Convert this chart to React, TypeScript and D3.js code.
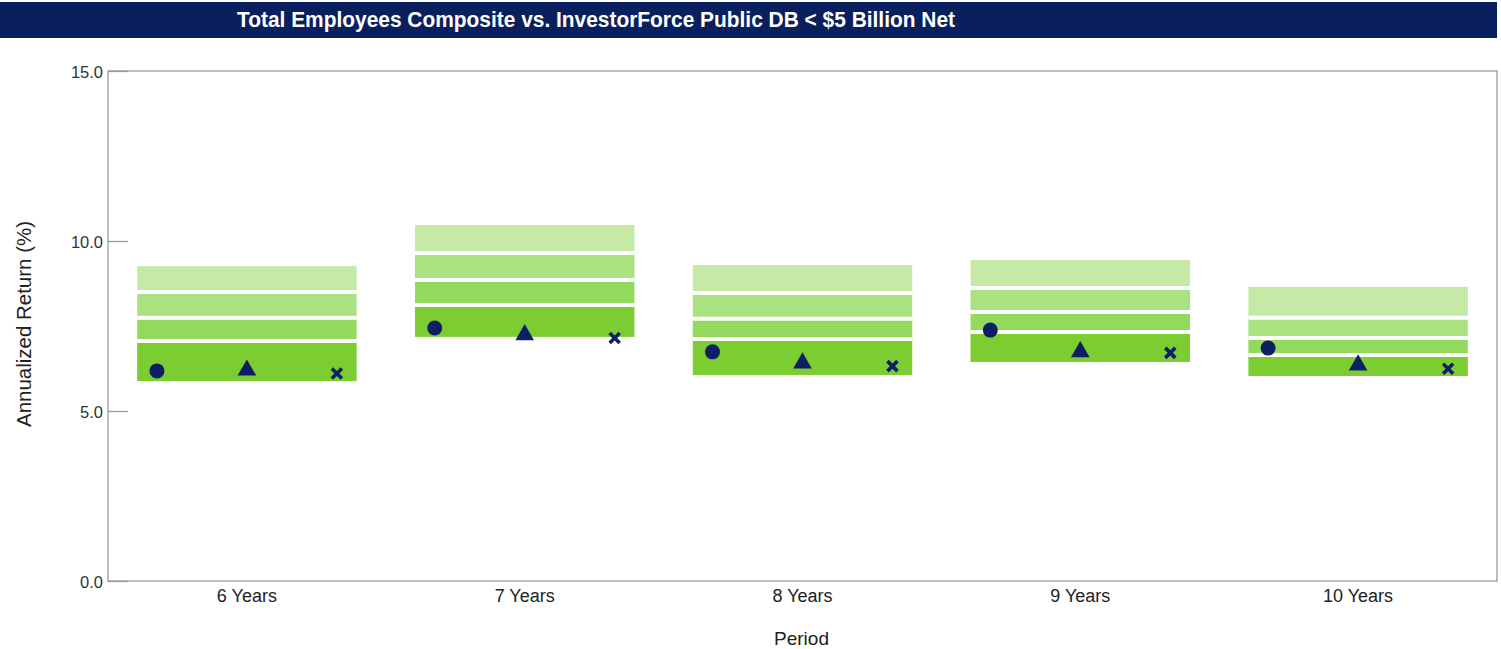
import React, { useEffect, useRef } from 'react';
import * as d3 from 'd3';

const periods = ['6 Years', '7 Years', '8 Years', '9 Years', '10 Years'];
// universe percentile edges (5th / 25th / median / 75th / 95th)
const p5 = [9.26, 10.47, 9.29, 9.44, 8.65];
const p25 = [8.5, 9.65, 8.47, 8.62, 7.74];
const p50 = [7.74, 8.85, 7.71, 7.91, 7.15];
const p75 = [7.06, 8.12, 7.12, 7.32, 6.65];
const p95 = [5.88, 7.18, 6.06, 6.44, 6.03];
// plotted returns
const compositeReturns = [6.18, 7.44, 6.74, 7.38, 6.85];
const triangleReturns = [6.2, 7.24, 6.41, 6.74, 6.35];
const crossReturns = [6.1, 7.15, 6.32, 6.71, 6.24];
const yTicks = [0, 5, 10, 15];

const bandColors = ['#c6e9a6', '#aae181', '#93d95d', '#7bcd31'];
const navy = '#0e1f66';
const font = "'Liberation Sans', Arial, sans-serif";

const App: React.FC = () => {
  const svgRef = useRef<SVGSVGElement>(null);

  useEffect(() => {
    if (!svgRef.current) return;
    const svg = d3.select(svgRef.current);
    svg.selectAll('*').remove();

    const left = 108;
    const right = 1497;
    const top = 71;
    const bottom = 581;

    const x = d3.scaleBand().domain(periods).range([left, right]).paddingInner(0.21).paddingOuter(0.105);
    const y = d3.scaleLinear().domain([0, 15]).range([bottom, top]);

    // title bar
    svg.append('rect').attr('x', 0).attr('y', 2).attr('width', right).attr('height', 36).attr('fill', '#0a1f5e');
    svg
      .append('text')
      .attr('x', 596)
      .attr('y', 27)
      .attr('text-anchor', 'middle')
      .attr('fill', '#fff')
      .attr('textLength', 718)
      .attr('lengthAdjust', 'spacingAndGlyphs')
      .style('font-family', font)
      .style('font-weight', '700')
      .style('font-size', '22px')
      .text('Total Employees Composite vs. InvestorForce Public DB < $5 Billion Net');

    // frame
    svg
      .append('rect')
      .attr('x', left)
      .attr('y', top)
      .attr('width', right - left)
      .attr('height', bottom - top)
      .attr('fill', 'none')
      .attr('stroke', '#9a9a9a')
      .attr('stroke-width', 1.3);

    // y ticks (inward) + labels
    const yAxis = svg.append('g').attr('transform', `translate(${left},0)`);
    yAxis
      .call(d3.axisRight(y).tickValues(yTicks).tickSize(20).tickFormat(() => ''))
      .call((g) => g.select('.domain').remove());
    yAxis.selectAll('.tick line').attr('stroke', '#9a9a9a').attr('stroke-width', 1.3);
    svg
      .append('g')
      .selectAll('text')
      .data(yTicks)
      .join('text')
      .attr('x', left - 5)
      .attr('y', (d) => y(d) + 7)
      .attr('text-anchor', 'end')
      .attr('fill', '#333')
      .style('font-family', font)
      .style('font-size', '16.5px')
      .text((d) => d3.format('.1f')(d));

    svg
      .append('text')
      .attr('transform', `translate(31,324) rotate(-90)`)
      .attr('text-anchor', 'middle')
      .attr('fill', '#222')
      .attr('textLength', 206)
      .attr('lengthAdjust', 'spacingAndGlyphs')
      .style('font-family', font)
      .style('font-size', '21px')
      .text('Annualized Return (%)');

    // x labels
    svg
      .append('g')
      .selectAll('text')
      .data(periods)
      .join('text')
      .attr('x', (d) => (x(d) || 0) + x.bandwidth() / 2)
      .attr('y', 602)
      .attr('text-anchor', 'middle')
      .attr('fill', '#222')
      .style('font-family', font)
      .style('font-size', '18px')
      .text((d) => d);

    svg
      .append('text')
      .attr('x', (left + right) / 2 - 1)
      .attr('y', 645)
      .attr('text-anchor', 'middle')
      .attr('fill', '#222')
      .style('font-family', font)
      .style('font-size', '19px')
      .text('Period');

    // floating percentile bars
    const edges = [p5, p25, p50, p75, p95];
    const bars = svg.append('g');
    periods.forEach((p, i) => {
      const bx = x(p) || 0;
      for (let k = 0; k < 4; k++) {
        const hi = edges[k][i];
        const lo = edges[k + 1][i];
        bars
          .append('rect')
          .attr('x', bx)
          .attr('y', y(hi))
          .attr('width', x.bandwidth())
          .attr('height', y(lo) - y(hi))
          .attr('fill', bandColors[k]);
      }
      for (let k = 1; k < 4; k++) {
        bars
          .append('line')
          .attr('x1', bx)
          .attr('x2', bx + x.bandwidth())
          .attr('y1', y(edges[k][i]))
          .attr('y2', y(edges[k][i]))
          .attr('stroke', '#fff')
          .attr('stroke-width', 4);
      }
    });

    const offset = x.bandwidth() * 0.41;
    const cx = (p: string) => (x(p) || 0) + x.bandwidth() / 2;
    const marks = svg.append('g').attr('fill', navy);

    marks
      .selectAll('circle')
      .data(periods)
      .join('circle')
      .attr('cx', (d) => cx(d) - offset)
      .attr('cy', (d, i) => y(compositeReturns[i]))
      .attr('r', 7.5);

    marks
      .selectAll('path.tri')
      .data(periods)
      .join('path')
      .attr('class', 'tri')
      .attr('transform', (d, i) => `translate(${cx(d)},${y(triangleReturns[i])})`)
      .attr('d', d3.symbol(d3.symbolTriangle, 150)());

    marks
      .selectAll('path.cross')
      .data(periods)
      .join('path')
      .attr('class', 'cross')
      .attr('transform', (d, i) => `translate(${cx(d) + offset},${y(crossReturns[i])})`)
      .attr('d', 'M-5,-5L5,5M5,-5L-5,5')
      .attr('stroke', navy)
      .attr('stroke-width', 3.6)
      .attr('fill', 'none');
  }, []);

  return <svg ref={svgRef} width={1501} height={649} style={{ display: 'block', position: 'absolute', left: 0, top: 0 }} />;
};

export default App;
